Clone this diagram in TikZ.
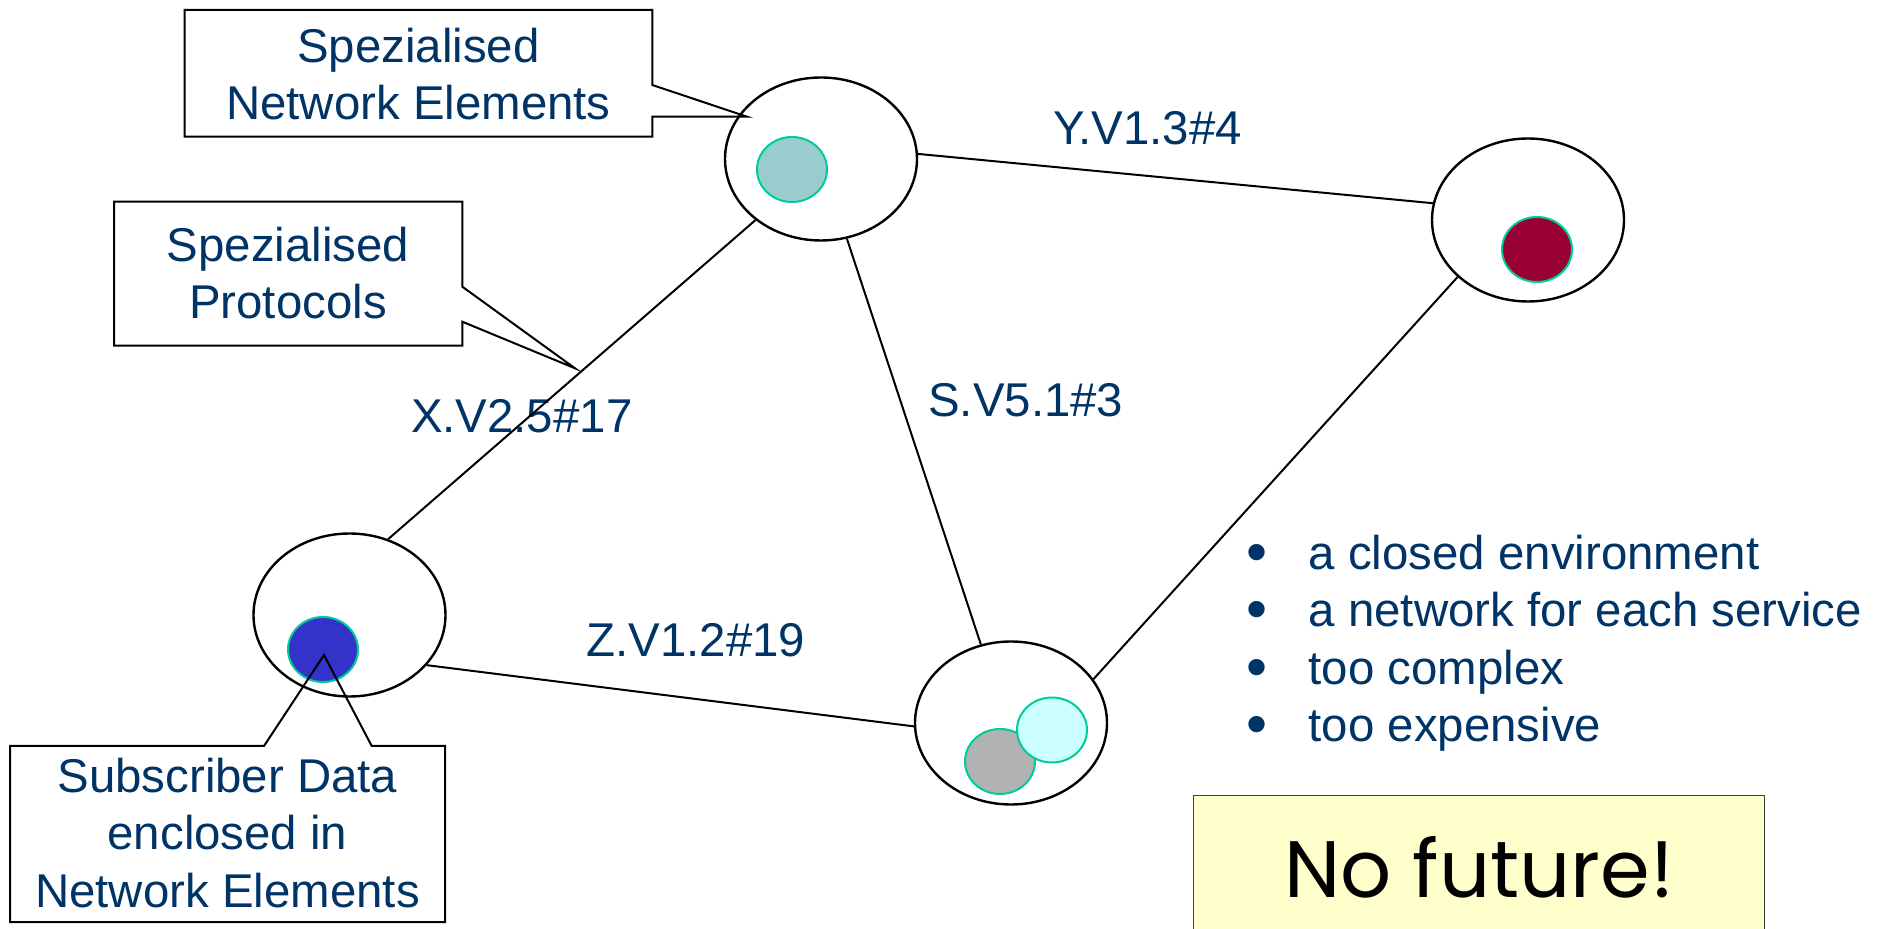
\documentclass[tikz,border=0pt]{standalone}
\usepackage{fontspec}
\setmainfont{Liberation Sans}
\newfontfamily\handfont{Poppins}
\usetikzlibrary{shapes.geometric}

\definecolor{txtblue}{RGB}{0,51,102}
\definecolor{tealrim}{RGB}{0,204,153}
\definecolor{fillteal}{RGB}{153,204,204}
\definecolor{fillred}{RGB}{153,0,51}
\definecolor{fillblue}{RGB}{51,51,204}
\definecolor{fillgray}{RGB}{178,178,178}
\definecolor{fillcyan}{RGB}{204,255,255}
\definecolor{paleyellow}{RGB}{255,255,204}

\newcommand{\factdot}{\makebox[31pt][l]{\raisebox{-1.5pt}{\fontsize{30}{30}\selectfont\textbullet}}}

\tikzset{every picture/.style={line width=0.75pt}}
\tikzset{
  elem/.style={draw, ellipse, line width=1.2pt, minimum width=96pt, minimum height=81.5pt, inner sep=0pt},
  datum/.style={draw=tealrim, ellipse, line width=1pt, minimum width=35pt, minimum height=32.5pt, inner sep=0pt},
  lbl/.style={text=txtblue, font=\fontsize{23.7}{28.75}\selectfont, inner sep=0pt},
  link/.style={line width=1pt},
  callout/.style={line width=1pt, line join=miter}
}

\begin{document}
\begin{tikzpicture}[x=0.5pt,y=0.5pt,yscale=-1,xscale=1]
\useasboundingbox (0,0) rectangle (1885,929);

%Shape: Ellipse (network elements)
\node [elem] (ne1) at (821,159) {};
\node [elem] (ne2) at (1528,220) {};
\node [elem] (ne3) at (349.5,615) {};
\node [elem] (ne4) at (1011,723) {};

%Shape: Circle (data)
\node [datum, fill=fillteal] (d1) at (792,169.5) {};
\node [datum, fill=fillred] (d2) at (1537,249.5) {};
\node [datum, fill=fillblue] (d3) at (323,649.5) {};
\node [datum, fill=fillgray] (d4) at (1000,761.5) {};
\node [datum, fill=fillcyan] (d5) at (1052,730) {};

% Text Node
\node [lbl, anchor=base] (protY) at (1147.5,145) {Y.V1.3\#4};
% Text Node
\node [lbl, anchor=base] (protX) at (521.7,433) {X.V2.5\#17};
% Text Node
\node [lbl, anchor=base] (protS) at (1025.8,416.7) {S.V5.1\#3};
% Text Node
\node [lbl, anchor=base] (protZ) at (696,656.7) {Z.V1.2\#19};

%Straight Lines
\draw [link] (ne1.3) -- (ne2.170);
\draw [link] (ne1.223) -- (ne3.63);
\draw [link] (ne1.288) -- (ne4.111);
\draw [link] (ne2.219) -- (ne4.28);
\draw [link] (ne3.327) -- (ne4.182);

%Shape: Callout
\draw [callout] (184.5,10) -- (652.3,10) -- (652.3,85) -- (747,116.7) -- (652.3,116.7) -- (652.3,136.7) -- (184.5,136.7) -- cycle;
%Shape: Callout
\draw [callout] (114,201.7) -- (462.3,201.7) -- (462.3,286.7) -- (575,368.3) -- (462.3,321.7) -- (462.3,345.7) -- (114,345.7) -- cycle;
%Shape: Callout
\draw [callout] (10,746) -- (264,746) -- (324,655) -- (371.7,746) -- (445,746) -- (445,922) -- (10,922) -- cycle;

% Text Node
\node [lbl, align=center] (noteNE) at (418.4,74) {Spezialised\\Network Elements};
% Text Node
\node [lbl, align=center] (notePR) at (288,273) {Spezialised\\Protocols};
% Text Node
\node [lbl, align=center] (noteSD) at (227.5,833) {Subscriber Data\\enclosed in\\Network Elements};

% Text Node
\node [lbl, anchor=west, align=left] (facts) at (1246,643) {\factdot a closed environment\\
\factdot a network for each service\\
\factdot too complex\\
\factdot too expensive};

%Shape: Rectangle
\node [draw=black!75, fill=paleyellow, line width=0.75pt, minimum width=285.5pt, minimum height=72pt, anchor=north, inner sep=0pt, font=\handfont\fontsize{40}{48}\selectfont] (nofuture) at (1479,795) {No future!};

\end{tikzpicture}
\end{document}
